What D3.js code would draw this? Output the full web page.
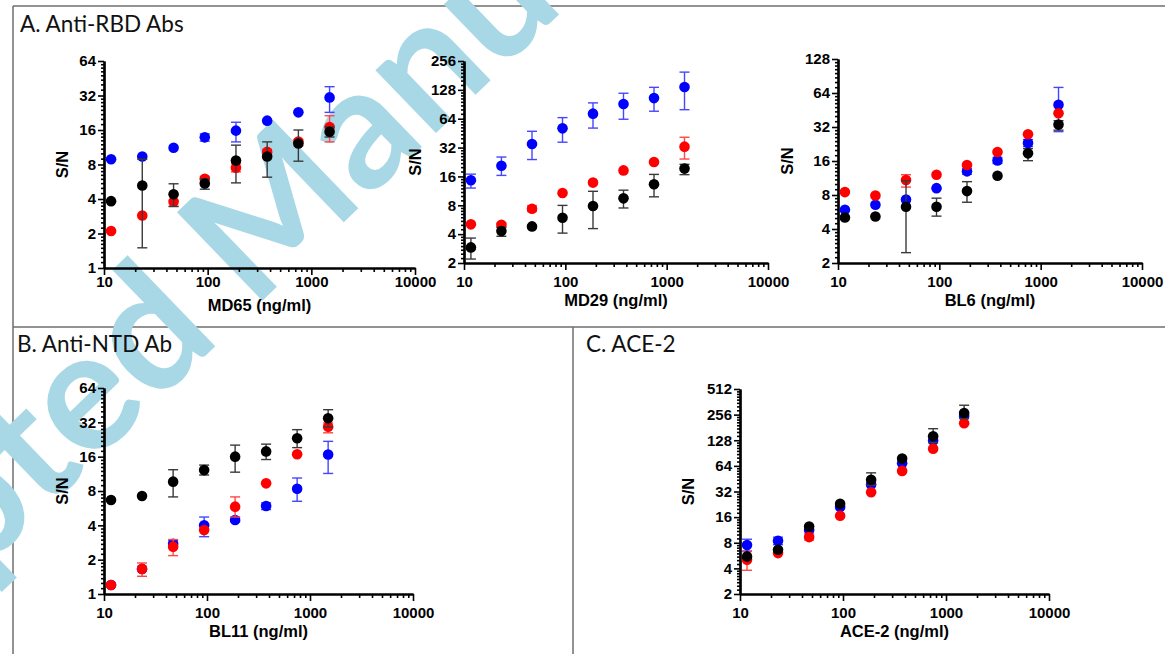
<!DOCTYPE html>
<html lang="en">
<head>
<meta charset="UTF-8">
<script src="https://d3js.org/d3.v7.min.js"></script>
<title>S/N dose curves</title>
<style>
body { margin: 0; background: #fff; }
</style>
</head>
<body>
<script>

// concentrations (ng/ml), 2-fold dilutions
var conc = [11.7, 23.4, 46.9, 93.8, 187.5, 375, 750, 1500];

// A. MD65
var md65Blue = [8.9, 9.4, 11.2, 13.8, 15.8, 19.3, 22.8, 30.8];
var md65BlueErr = [null, null, null, [12.8, 14.8], [12.6, 18.7], null, null, [22.8, 38.2]];
var md65Red = [2.1, 2.87, 3.78, 6.0, 7.5, 10.3, 12.7, 17.0];
var md65RedErr = [null, null, [3.45, 3.9], [5.6, 6.3], [6.9, 8.1], [9.8, 10.8], [11.7, 13.2], [12.6, 21.3]];
var md65Black = [3.83, 5.25, 4.4, 5.46, 8.68, 9.4, 12.2, 15.45];
var md65BlackErr = [null, [1.5, 8.9], [3.44, 5.43], [4.87, 6.0], [5.53, 11.8], [6.2, 12.6], [8.55, 16], [13.9, 17]];

// A. MD29
var md29Blue = [14.6, 20.7, 34.9, 50.8, 72.3, 91.1, 105, 137];
var md29BlueErr = [[12.1, 16.9], [16.4, 25.5], [24.0, 47.3], [36.4, 65.7], [51.1, 93.6], [63.2, 118], [76.6, 136], [79.5, 196]];
var md29Red = [5.06, 5.0, 7.37, 10.75, 13.8, 18.5, 22.6, 32.7];
var md29RedErr = [null, [4.8, 5.2], [6.9, 7.9], null, null, null, null, [24.3, 41.0]];
var md29Black = [2.91, 4.31, 4.82, 5.94, 7.86, 9.45, 13.25, 19.3];
var md29BlackErr = [[2.2, 3.64], [3.8, 4.7], null, [4.1, 7.98], [4.57, 11.2], [7.5, 11.5], [9.8, 16.8], [16.7, 21.4]];

// A. BL6
var bl6Blue = [5.91, 6.55, 7.3, 9.2, 12.95, 16.2, 23.1, 50.3];
var bl6BlueErr = [null, null, null, null, [12.2, 13.7], [15.2, 17.2], [21.5, 24.8], [29.1, 71.7]];
var bl6Red = [8.49, 7.93, 10.85, 12.1, 14.74, 19.2, 27.6, 42.4];
var bl6RedErr = [null, null, [9.4, 12.1], null, null, null, null, null];
var bl6Black = [5.05, 5.16, 6.29, 6.29, 8.66, 11.85, 18.7, 33.6];
var bl6BlackErr = [null, null, [2.47, 10.7], [5.2, 7.5], [6.9, 10.5], null, [16.1, 20.6], [30, 36.4]];

// B. BL11
var bl11Blue = [1.2, 1.66, 2.76, 4.0, 4.45, 5.91, 8.38, 16.7];
var bl11BlueErr = [null, null, [2.6, 2.95], [3.18, 4.73], [4.3, 4.7], [5.5, 6.3], [6.5, 10.4], [11.4, 21.8]];
var bl11Red = [1.2, 1.66, 2.6, 3.64, 5.83, 9.34, 16.8, 29.3];
var bl11RedErr = [null, [1.43, 1.87], [2.17, 3.0], null, [4.73, 7.1], null, null, [25.9, 31.6]];
var bl11Black = [6.67, 7.23, 9.66, 12.2, 16.0, 17.8, 23.2, 34.7];
var bl11BlackErr = [null, null, [7.1, 12.3], [11.05, 13.5], [11.7, 20.2], [15.1, 20.6], [19.2, 27.6], [29.1, 41.3]];

// C. ACE-2
var ace2Blue = [7.51, 8.44, 11.3, 21, 38.7, 68.8, 127, 247];
var ace2BlueErr = [[6.4, 8.8], [7.6, 9.3], null, null, null, null, null, null];
var ace2Red = [5.06, 6.05, 9.32, 16.6, 31.4, 55.9, 102, 203];
var ace2RedErr = [[3.8, 6.3], null, [8.6, 10.2], null, null, null, null, null];
var ace2Black = [5.53, 6.62, 12.4, 22.9, 43.9, 78, 142.6, 268];
var ace2BlackErr = [null, null, null, null, [38, 53], null, [120, 175], [230, 330]];

var xTicks = [10, 100, 1000, 10000];

var width = 1165, height = 654;
var svg = d3.select("body").append("svg").attr("width", width).attr("height", height);

var colors = { blue: "#0000ff", red: "#ff0000", black: "#000000" };
var errColors = { blue: "#4646ff", red: "#ff4646", black: "#3a3a3a" };
var boldFont = "'Liberation Sans', Arial, sans-serif";

var panels = [
    { xlab: "MD65 (ng/ml)", x0: 104, x1: 415, y0: 268, y1: 61, ymax: 64, ymin: 1, lab: 19, ytitle: 42,
      series: [["blue", md65Blue, md65BlueErr], ["red", md65Red, md65RedErr], ["black", md65Black, md65BlackErr]] },
    { xlab: "MD29 (ng/ml)", x0: 464, x1: 768, y0: 263, y1: 61, ymax: 256, ymin: 2, lab: 24, ytitle: 49,
      series: [["blue", md29Blue, md29BlueErr], ["red", md29Red, md29RedErr], ["black", md29Black, md29BlackErr]] },
    { xlab: "BL6 (ng/ml)", x0: 838, x1: 1142, y0: 263, y1: 59, ymax: 128, ymin: 2, lab: 24, ytitle: 51,
      series: [["blue", bl6Blue, bl6BlueErr], ["red", bl6Red, bl6RedErr], ["black", bl6Black, bl6BlackErr]] },
    { xlab: "BL11 (ng/ml)", x0: 104, x1: 413, y0: 594, y1: 388, ymax: 64, ymin: 1, lab: 24, ytitle: 42,
      series: [["blue", bl11Blue, bl11BlueErr], ["red", bl11Red, bl11RedErr], ["black", bl11Black, bl11BlackErr]] },
    { xlab: "ACE-2 (ng/ml)", x0: 740, x1: 1049, y0: 594, y1: 389, ymax: 512, ymin: 2, lab: 24, ytitle: 52,
      series: [["blue", ace2Blue, ace2BlueErr], ["red", ace2Red, ace2RedErr], ["black", ace2Black, ace2BlackErr]] }
];

// panel frame
var frame = svg.append("g").attr("stroke", "#6e6e6e").attr("stroke-width", 1.5);
frame.append("line").attr("x1", 13).attr("y1", 6).attr("x2", width).attr("y2", 6);
frame.append("line").attr("x1", 13).attr("y1", 6).attr("x2", 13).attr("y2", height);
frame.append("line").attr("x1", 13).attr("y1", 327).attr("x2", width).attr("y2", 327);
frame.append("line").attr("x1", 573).attr("y1", 327).attr("x2", 573).attr("y2", height);

// watermark
svg.append("text")
    .attr("transform", "translate(290,274) rotate(-44)")
    .attr("text-anchor", "middle")
    .style("font-family", "Lato, sans-serif")
    .style("font-weight", "bold")
    .style("font-size", "170px")
    .style("fill", "#a8d8e6")
    .text("Accepted Manuscript");

// panel titles
var titles = [["A. Anti-RBD Abs", 20, 32], ["B. Anti-NTD Ab", 17, 352], ["C. ACE-2", 586, 352]];
svg.selectAll(".ptitle").data(titles).enter().append("text")
    .attr("class", "ptitle")
    .attr("x", function(d) { return d[1]; })
    .attr("y", function(d) { return d[2]; })
    .style("font-family", "Lato, sans-serif")
    .style("font-size", "22.5px")
    .style("fill", "#111")
    .text(function(d) { return d[0]; });

panels.forEach(function(p) {
    var g = svg.append("g");
    var x = d3.scaleLog().domain([10, 10000]).range([p.x0, p.x1]);
    var y = d3.scaleLog().base(2).domain([p.ymin, p.ymax]).range([p.y0, p.y1]);

    var xMinor = [];
    [10, 100, 1000].forEach(function(d) { for (var k = 2; k <= 9; k++) xMinor.push(d * k); });
    var yMajor = [], yMinor = [];
    for (var v = p.ymin; v <= p.ymax; v *= 2) {
        yMajor.push(v);
        if (v < p.ymax) for (var k = 1; k < 8; k++) yMinor.push(v * (1 + k / 8));
    }

    g.append("g").attr("transform", "translate(0," + p.y0 + ")")
        .call(d3.axisBottom(x).tickValues(xMinor).tickSize(4).tickSizeOuter(0).tickFormat(""));
    g.append("g").attr("transform", "translate(0," + p.y0 + ")")
        .call(d3.axisBottom(x).tickValues(xTicks).tickSize(7).tickSizeOuter(0)
            .tickPadding(p.lab - 18).tickFormat(d3.format("d")));
    g.append("g").attr("transform", "translate(" + p.x0 + ",0)")
        .call(d3.axisLeft(y).tickValues(yMinor).tickSize(3).tickSizeOuter(0).tickFormat(""));
    g.append("g").attr("transform", "translate(" + p.x0 + ",0)")
        .call(d3.axisLeft(y).tickValues(yMajor).tickSize(6).tickSizeOuter(0).tickPadding(2).tickFormat(d3.format("d")));

    g.selectAll(".domain").attr("stroke", "#000").attr("stroke-width", 2.2);
    g.selectAll(".tick line").attr("stroke", "#000").attr("stroke-width", 1.6);
    g.selectAll(".tick text")
        .style("font-family", boldFont)
        .style("font-weight", "bold")
        .style("font-size", "15px")
        .attr("fill", "#000");

    g.append("text")
        .attr("x", (p.x0 + p.x1) / 2)
        .attr("y", p.y0 + 43)
        .attr("text-anchor", "middle")
        .style("font-family", boldFont)
        .style("font-weight", "bold")
        .style("font-size", "16.5px")
        .text(p.xlab);

    g.append("text")
        .attr("transform", "translate(" + (p.x0 - p.ytitle + 6) + "," + ((p.y0 + p.y1) / 2) + ") rotate(-90)")
        .attr("text-anchor", "middle")
        .style("font-family", boldFont)
        .style("font-weight", "bold")
        .style("font-size", "16.5px")
        .text("S/N");

    p.series.forEach(function(s) {
        var col = s[0], vals = s[1], errs = s[2];
        var pts = conc.map(function(c, i) { return { c: c, v: vals[i], e: errs[i] }; });
        var eb = g.append("g").attr("stroke", errColors[col]).attr("stroke-width", 1.4);
        pts.filter(function(d) { return d.e; }).forEach(function(d) {
            var cx = x(d.c);
            eb.append("line").attr("x1", cx).attr("x2", cx).attr("y1", y(d.e[0])).attr("y2", y(d.e[1]));
            eb.append("line").attr("x1", cx - 5).attr("x2", cx + 5).attr("y1", y(d.e[0])).attr("y2", y(d.e[0]));
            eb.append("line").attr("x1", cx - 5).attr("x2", cx + 5).attr("y1", y(d.e[1])).attr("y2", y(d.e[1]));
        });
        g.append("g").selectAll("circle").data(pts).enter().append("circle")
            .attr("cx", function(d) { return x(d.c); })
            .attr("cy", function(d) { return y(d.v); })
            .attr("r", 5.3)
            .attr("fill", colors[col]);
    });
});

</script>
</body>
</html>
